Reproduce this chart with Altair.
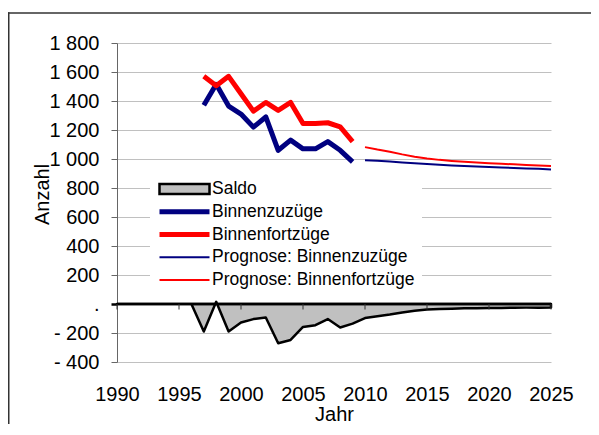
import altair as alt
import pandas as pd

# ---------------- data ----------------
hist_years = list(range(1997, 2010))
binnenzuzuege = [1370, 1515, 1365, 1310, 1220, 1290, 1060, 1130, 1070, 1070, 1120, 1060, 980]
binnenfortzuege = [1570, 1505, 1570, 1450, 1330, 1390, 1335, 1390, 1245, 1245, 1250, 1222, 1120]

prog_years = list(range(2010, 2026))
prog_zuzuege = [992, 988, 982, 976, 970, 965, 960, 956, 952, 948, 944, 941, 938, 935, 932, 928]
prog_fortzuege = [1082, 1065, 1050, 1032, 1016, 1004, 994, 987, 981, 976, 971, 967, 963, 959, 955, 951]

saldo_years = list(range(1990, 2026))
saldo = [0, 0, 0, 0, 0, 0, 0,
         -190, 15, -190, -128, -104, -93, -271, -248, -158, -146, -104, -162, -135,
         -97, -84, -72, -58, -46, -38, -34, -32, -30, -29, -28, -27, -26, -25, -25, -24]

x_ticks = list(range(1990, 2030, 5))
y_ticks = list(range(-400, 2000, 200))

series_names = ["Saldo", "Binnenzuzüge", "Binnenfortzüge",
                "Prognose: Binnenzuzüge", "Prognose: Binnenfortzüge"]
fill_colors = ["#c0c0c0", "#000080", "#ff0000", "#000080", "#ff0000"]
stroke_colors = ["#000000", "#000080", "#ff0000", "#000080", "#ff0000"]
stroke_widths = [2.5, 5, 5, 2, 2]

FONT = "Liberation Sans"

saldo_df = pd.DataFrame({"Jahr": saldo_years, "Anzahl": saldo, "Reihe": "Saldo"})
hist_df = pd.concat([
    pd.DataFrame({"Jahr": hist_years, "Anzahl": binnenzuzuege, "Reihe": series_names[1]}),
    pd.DataFrame({"Jahr": hist_years, "Anzahl": binnenfortzuege, "Reihe": series_names[2]}),
])
prog_df = pd.concat([
    pd.DataFrame({"Jahr": prog_years, "Anzahl": prog_zuzuege, "Reihe": series_names[3]}),
    pd.DataFrame({"Jahr": prog_years, "Anzahl": prog_fortzuege, "Reihe": series_names[4]}),
])
ticks_df = pd.DataFrame({"Jahr": x_ticks, "Anzahl": 0, "Anzahl2": -38})
zero_df = pd.DataFrame({"Jahr": [x_ticks[0]], "Jahr2": [x_ticks[-1]], "Anzahl": [0]})
one_df = pd.DataFrame({"k": [0]})

# ---------------- scales / axes ----------------
xs = alt.Scale(domain=[1990, 2025], nice=False, zero=False)
ys = alt.Scale(domain=[-400, 1800], nice=False)
fs = alt.Scale(domain=series_names, range=fill_colors)
ss = alt.Scale(domain=series_names, range=stroke_colors)
ws = alt.Scale(type="ordinal", domain=series_names, range=stroke_widths)

label_expr = ("datum.value === 0 ? '.' : (datum.value < 0 ? '- ' + replace(format(-datum.value, ','), ',', ' ')"
              " : replace(format(datum.value, ','), ',', ' '))")

y_axis = alt.Axis(
    values=y_ticks, labelExpr=label_expr, labelFont=FONT, labelFontSize=20, labelColor="black",
    labelPadding=12, labelOverlap=False, tickSize=6,
    tickColor={"condition": {"test": "datum.value === 0", "value": "#000000"}, "value": "#666666"},
    tickWidth={"condition": {"test": "datum.value === 0", "value": 2.5}, "value": 1},
    domainColor="#666666", domainWidth=1,
    grid=True, gridColor="#c0c0c0", gridWidth=1,
    title="Anzahl", titleFont=FONT, titleFontSize=20, titleFontWeight="normal", titleColor="black",
    titleAngle=270, titleX=-69, titleY=151, titleAlign="center", titleBaseline="alphabetic",
)
x_axis = alt.Axis(
    values=x_ticks, format="d", labelFont=FONT, labelFontSize=20, labelColor="black",
    labelPadding=22, ticks=False, tickSize=0, domain=False, grid=False,
    labelFlush=False, labelOverlap=False,
    title="Jahr", titleFont=FONT, titleFontSize=20, titleFontWeight="normal", titleColor="black",
    titleX=217, titleY=58, titleAlign="center", titleBaseline="alphabetic",
)

legend = alt.Legend(
    orient="none", legendX=33, legendY=129, title=None,
    symbolType=alt.ExprRef("datum.value === 'Saldo' ? 'M-1,-0.2H1V0.2H-1Z' : 'stroke'"),
    symbolSize=2500, symbolOpacity=1, symbolOffset=0,
    labelFont=FONT, labelFontSize=17.5, labelColor="black", labelLimit=0, labelOffset=0,
    padding=7, rowPadding=2.75, clipHeight=20, fillColor="white",
)

X = alt.X("Jahr:Q", scale=xs, axis=x_axis)
Y = alt.Y("Anzahl:Q", scale=ys, axis=y_axis, stack=None)
FILL = alt.Fill("Reihe:N", scale=fs, legend=legend)
STROKE = alt.Stroke("Reihe:N", scale=ss, legend=legend)
WIDTH = alt.StrokeWidth("Reihe:N", scale=ws, legend=legend)

area = alt.Chart(saldo_df).mark_area(opacity=1, strokeJoin="round").encode(
    x=X, y=Y, fill=FILL, stroke=STROKE, strokeWidth=WIDTH
)
zero_rule = alt.Chart(zero_df).mark_rule(color="black", strokeWidth=2.5).encode(
    x=X, x2=alt.X2("Jahr2:Q"), y=Y
)
zero_ticks = alt.Chart(ticks_df).mark_rule(color="#333333", strokeWidth=1).encode(
    x=X, y=Y, y2=alt.Y2("Anzahl2:Q")
)
hist_lines = alt.Chart(hist_df).mark_line(strokeJoin="round").encode(
    x=X, y=Y, stroke=STROKE, strokeWidth=WIDTH
)
prog_lines = alt.Chart(prog_df).mark_line(strokeJoin="round").encode(
    x=X, y=Y, stroke=STROKE, strokeWidth=WIDTH
)
frame_top = alt.Chart(one_df).mark_rule(color="#333333", strokeWidth=1.5).encode(
    x=alt.value(-109), x2=alt.value(474), y=alt.value(-30)
)
frame_left = alt.Chart(one_df).mark_rule(color="#333333", strokeWidth=1.5).encode(
    x=alt.value(-108.25), y=alt.value(-30.75), y2=alt.value(381)
)

chart = alt.layer(
    area, zero_rule, zero_ticks, hist_lines, prog_lines, frame_top, frame_left
).properties(
    width=434, height=319,
    autosize=alt.AutoSizeParams(type="none"),
    padding={"left": 109, "top": 35, "right": 40, "bottom": 62},
    title=alt.TitleParams("Binnenwanderung", anchor="start", frame="group", dx=-77, dy=4,
                          font=FONT, fontSize=19, fontWeight="normal", color="black",
                          offset=2, baseline="alphabetic"),
).configure_view(stroke=None)

chart.save("out.html", embed_options={"renderer": "svg", "actions": False})
